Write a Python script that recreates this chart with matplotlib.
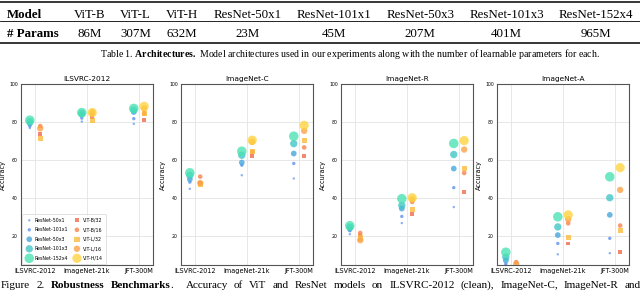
import matplotlib
matplotlib.use("Agg")
import matplotlib.pyplot as plt
from matplotlib.lines import Line2D
import numpy as np

plt.rcParams["mathtext.fontset"] = "custom"
plt.rcParams["mathtext.rm"] = "Liberation Serif"
plt.rcParams["mathtext.bf"] = "Liberation Serif:bold"

W, H = 640, 291
SERIF = ["Liberation Serif", "DejaVu Serif"]
SANS = ["DejaVu Sans"]
nan = np.nan

# ---------------- data ----------------
table_models = ["ViT-B", "ViT-L", "ViT-H", "ResNet-50x1", "ResNet-101x1",
                "ResNet-50x3", "ResNet-101x3", "ResNet-152x4"]
table_params = ["86M", "307M", "632M", "23M", "45M", "207M", "401M", "965M"]

benchmarks = ["ILSVRC-2012", "ImageNet-C", "ImageNet-R", "ImageNet-A"]
pretrain = ["ILSVRC-2012", "ImageNet-21k", "JFT-300M"]
resnet_names = ["ResNet-50x1", "ResNet-101x1", "ResNet-50x3", "ResNet-101x3", "ResNet-152x4"]
vit_names = ["ViT-B/32", "ViT-B/16", "ViT-L/32", "ViT-L/16", "ViT-H/14"]

# rows: models, columns: pre-training dataset (ILSVRC-2012, ImageNet-21k, JFT-300M)
ilsvrc_resnet = [[76.9, 80.3, 79.1], [77.9, 82.1, 81.8], [79.3, 84.0, 85.3],
                 [80.2, 84.6, 86.4], [81.0, 85.0, 87.2]]
ilsvrc_vit = [[74.0, 82.5, 81.0], [77.9, 84.0, 84.4], [71.4, 81.0, 84.6],
              [76.7, 85.2, 87.2], [nan, 85.0, 88.3]]

imagenet_c_resnet = [[45.0, 52.1, 50.4], [48.5, 57.4, 58.3], [50.0, 58.8, 63.5],
                     [52.1, 62.6, 68.7], [53.4, 64.7, 72.6]]
imagenet_c_vit = [[48.3, 62.3, 62.1], [51.4, 64.4, 66.7], [47.2, 64.7, 70.5],
                  [48.0, 69.6, 75.4], [nan, 70.5, 78.3]]

imagenet_r_resnet = [[21.2, 27.0, 35.4], [23.0, 30.5, 45.6], [24.0, 34.6, 55.6],
                     [24.9, 36.3, 63.0], [25.6, 39.8, 68.8]]
imagenet_r_vit = [[20.5, 31.9, 43.4], [21.8, 38.1, 53.3], [19.2, 34.2, 55.6],
                  [18.0, 39.5, 65.6], [nan, 40.3, 70.3]]

imagenet_a_resnet = [[5.0, 10.6, 11.2], [5.6, 16.3, 19.0], [7.4, 20.7, 31.3],
                     [9.1, 25.0, 40.3], [11.7, 30.3, 51.3]]
imagenet_a_vit = [[1.5, 16.3, 12.0], [6.5, 26.9, 25.7], [1.0, 19.6, 22.9],
                  [5.5, 29.0, 44.4], [nan, 31.3, 56.1]]

panel_resnet = [ilsvrc_resnet, imagenet_c_resnet, imagenet_r_resnet, imagenet_a_resnet]
panel_vit = [ilsvrc_vit, imagenet_c_vit, imagenet_r_vit, imagenet_a_vit]

y_ticks = [20, 40, 60, 80, 100]

# ---------------- styles ----------------
resnet_colors = ["#6a9cf0", "#5b8ff0", "#42a6dc", "#40c4c6", "#48e2b2"]
resnet_sizes = [3, 6, 17, 28, 47]
vit_colors = ["#f26548", "#f77f45", "#fcb938", "#fba043", "#ffd23e"]
vit_markers = ["s", "o", "s", "o", "o"]
vit_sizes = [8, 11, 14, 21, 44]

fig = plt.figure(figsize=(W / 100, H / 100), dpi=100)
fig.canvas.draw()
renderer = fig.canvas.get_renderer()


def run_width(txt, weight, size):
    t = fig.text(0, 0, txt, fontsize=size, fontweight=weight, family=SERIF)
    w = t.get_window_extent(renderer).width
    t.remove()
    return w


def draw_justified(tokens, x0, base, size, x1, extra=None):
    widths = [sum(run_width(t, w, size) for t, w in tok) for tok in tokens]
    extra = extra or {}
    n = len(tokens) - 1
    free = x1 - x0 - sum(widths) - sum(extra.values())
    gaps = [free / n + extra.get(i, 0) for i in range(n)]
    x = x0
    for i, tok in enumerate(tokens):
        for txt, wt in tok:
            fig.text(x / W, 1 - base / H, txt, fontsize=size, fontweight=wt,
                     family=SERIF, ha="left", va="baseline")
            x += run_width(txt, wt, size) + 0.5
        if i < n:
            x += gaps[i]


# ---------------- table ----------------
TS = 9.3
gap = 15.0
x = 7.0
first_w = max(run_width("Model", "bold", TS), run_width("# Params", "bold", TS))
fig.text(x / W, 1 - 17.5 / H, "Model", fontsize=TS, fontweight="bold", family=SERIF,
         ha="left", va="baseline")
fig.text(x / W, 1 - 37.0 / H, "# Params", fontsize=TS, fontweight="bold", family=SERIF,
         ha="left", va="baseline")
x += first_w + gap
for m, p in zip(table_models, table_params):
    w = max(run_width(m, "normal", TS), run_width(p, "normal", TS))
    cx = x + w / 2
    fig.text(cx / W, 1 - 17.5 / H, m, fontsize=TS, family=SERIF, ha="center", va="baseline")
    fig.text(cx / W, 1 - 37.0 / H, p, fontsize=TS, family=SERIF, ha="center", va="baseline")
    x += w + gap
x_end = min(x - gap + 7, W)
for yy, lw in [(1.5, 1.1), (21.0, 0.6), (42.5, 1.1)]:
    fig.add_artist(Line2D([0, x_end / W], [1 - yy / H, 1 - yy / H], color="black",
                          lw=lw, transform=fig.transFigure))

cap1 = (r"Table 1. $\mathbf{Architectures.}$ Model architectures used in our experiments "
        r"along with the number of learnable parameters for each.")
fig.text(100 / W, 1 - 57.0 / H, cap1, fontsize=7.1, family=SERIF, ha="left", va="baseline")

cap2 = [[("Figure", "normal")], [("2.", "normal")], [("Robustness", "bold")],
        [("Benchmarks", "bold"), (".", "normal")]]
cap2 += [[(w_, "normal")] for w_ in
         "Accuracy of ViT and ResNet models on ILSVRC-2012 (clean), ImageNet-C, ImageNet-R and".split()]
draw_justified(cap2, 1, 287.5, 8.0, 633, extra={3: 6.0})

# ---------------- panels ----------------
lefts = [21, 181, 341, 497]
ax_w = 132
ax_top, ax_bot = 84, 265
xs = np.arange(len(pretrain))
for k, name in enumerate(benchmarks):
    ax = fig.add_axes([lefts[k] / W, 1 - ax_bot / H, ax_w / W, (ax_bot - ax_top) / H])
    ax.set_axisbelow(True)
    res = np.array(panel_resnet[k], dtype=float)
    vit = np.array(panel_vit[k], dtype=float)
    for i, nm in enumerate(resnet_names):
        ax.scatter(xs - 0.1, res[i], s=resnet_sizes[i], c=resnet_colors[i], marker="o",
                   alpha=0.78, edgecolors="none", label=nm)
    for i, nm in enumerate(vit_names):
        ax.scatter(xs + 0.1, vit[i], s=vit_sizes[i], c=vit_colors[i], marker=vit_markers[i],
                   alpha=0.78, edgecolors="none", label=nm)
    ax.set_xlim(-0.27, 2.27)
    ax.set_ylim(5, 100)
    ax.set_xticks(xs)
    ax.set_xticklabels(pretrain, fontsize=4.7, family=SANS)
    ax.set_yticks(y_ticks)
    ax.set_yticklabels([str(v) for v in y_ticks], fontsize=3.3, family=SANS)
    ax.tick_params(axis="both", length=0)
    ax.tick_params(axis="x", pad=2.0)
    ax.tick_params(axis="y", pad=2.2)
    ax.grid(True, color="#e3e3e3", lw=0.6)
    for sp in ax.spines.values():
        sp.set_color("#555555")
        sp.set_linewidth(0.8)
    ax.set_title(name, fontsize=5.3, family=SANS, pad=2.3)
    ax.set_ylabel("Accuracy", fontsize=4.7, family=SANS, labelpad=2.5)
    if k == 0:
        leg = ax.legend(ncol=2, loc="lower left", frameon=True,
                        borderaxespad=0.25, labelspacing=0.95, handletextpad=0.4,
                        columnspacing=1.0, borderpad=0.7, scatterpoints=1,
                        handlelength=1.6,
                        prop={"family": "DejaVu Sans", "size": 3.4})
        leg.get_frame().set_edgecolor("#cccccc")
        leg.get_frame().set_linewidth(0.5)

fig.savefig("out.png", dpi=100)
